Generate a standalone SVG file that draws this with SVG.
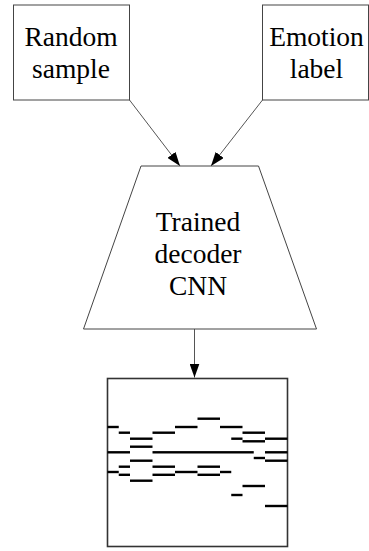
<svg xmlns="http://www.w3.org/2000/svg" width="369" height="551" viewBox="0 0 369 551">
  <style>
    .box { fill: #ffffff; stroke: #444444; stroke-width: 1; }
    .roll { fill: #ffffff; stroke: #333333; stroke-width: 1.6; }
    .label { font-family: "Liberation Serif", "Times New Roman", serif; font-size: 27.5px; fill: #000000; text-anchor: middle; }
    .edge { stroke: #555555; stroke-width: 1; fill: none; marker-end: url(#head); }
    .note { fill: #000000; }
  </style>
  <defs>
    <marker id="head" viewBox="0 0 14 10" refX="14" refY="5" markerWidth="14" markerHeight="10" markerUnits="userSpaceOnUse" orient="auto">
      <path d="M0,0 L14,5 L0,10 z" fill="#000000"/>
    </marker>
  </defs>

  <rect width="369" height="551" fill="#ffffff"/>

  <g id="connectors">
    <line class="edge" x1="129.5" y1="100" x2="180" y2="166"/>
    <line class="edge" x1="262.5" y1="100" x2="211" y2="166"/>
    <line class="edge" x1="194.5" y1="329" x2="194.5" y2="377.5"/>
  </g>

  <g id="random-sample">
    <rect class="box" x="13.5" y="5" width="116" height="95"/>
    <text class="label" x="71" y="46">Random</text>
    <text class="label" x="71" y="78">sample</text>
  </g>

  <g id="emotion-label">
    <rect class="box" x="262.5" y="5" width="106" height="95"/>
    <text class="label" x="316.5" y="46">Emotion</text>
    <text class="label" x="316.5" y="78">label</text>
  </g>

  <g id="decoder">
    <polygon class="box" points="141,166 258.5,166 316.5,329 83.5,329"/>
    <text class="label" x="198" y="231">Trained</text>
    <text class="label" x="198" y="263">decoder</text>
    <text class="label" x="198" y="295">CNN</text>
  </g>

  <g id="piano-roll">
    <rect class="roll" x="107.5" y="378.5" width="180" height="168"/>
    <g class="note">
      <rect x="107.5" y="425.8" width="11.25" height="2.4"/>
      <rect x="118.75" y="431.5" width="11.25" height="2.4"/>
      <rect x="130" y="437.5" width="22.5" height="2.4"/>
      <rect x="130" y="445.5" width="22.5" height="2.4"/>
      <rect x="107.5" y="451.1" width="22.5" height="2.4"/>
      <rect x="152.5" y="451.1" width="101.25" height="2.4"/>
      <rect x="130" y="459.5" width="22.5" height="2.4"/>
      <rect x="118.75" y="465.5" width="11.25" height="2.4"/>
      <rect x="107.5" y="470.8" width="11.25" height="2.4"/>
      <rect x="118.75" y="473.6" width="11.25" height="2.4"/>
      <rect x="130" y="479.5" width="22.5" height="2.4"/>
      <rect x="152.5" y="431.5" width="22.5" height="2.4"/>
      <rect x="175" y="425.8" width="22.5" height="2.4"/>
      <rect x="197.5" y="417.5" width="22.5" height="2.4"/>
      <rect x="220" y="425.8" width="22.5" height="2.4"/>
      <rect x="242.5" y="431.5" width="22.5" height="2.4"/>
      <rect x="231.25" y="437.5" width="11.25" height="2.4"/>
      <rect x="242.5" y="440.1" width="22.5" height="2.4"/>
      <rect x="265" y="437.5" width="22.5" height="2.4"/>
      <rect x="265" y="451.1" width="22.5" height="2.4"/>
      <rect x="253.75" y="456.8" width="11.25" height="2.4"/>
      <rect x="265" y="459.5" width="22.5" height="2.4"/>
      <rect x="152.5" y="465.5" width="22.5" height="2.4"/>
      <rect x="152.5" y="473.6" width="22.5" height="2.4"/>
      <rect x="175" y="470.8" width="22.5" height="2.4"/>
      <rect x="197.5" y="465.5" width="22.5" height="2.4"/>
      <rect x="197.5" y="473.6" width="22.5" height="2.4"/>
      <rect x="220" y="470.8" width="11.25" height="2.4"/>
      <rect x="242.5" y="484.8" width="22.5" height="2.4"/>
      <rect x="231.25" y="493.8" width="11.25" height="2.4"/>
      <rect x="265" y="504.8" width="22.5" height="2.4"/>
    </g>
  </g>
</svg>
